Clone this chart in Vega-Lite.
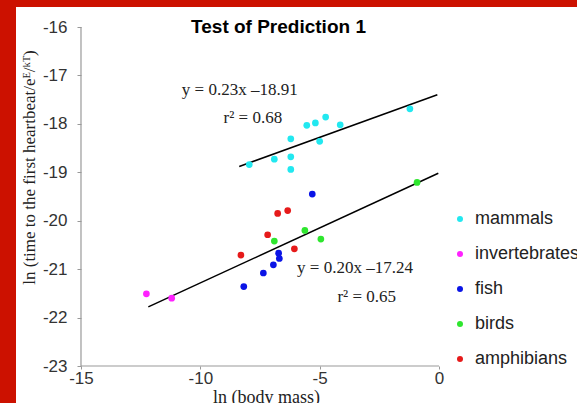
{
  "$schema": "https://vega.github.io/schema/vega-lite/v6.json",
  "width": 561,
  "height": 396,
  "autosize": "none",
  "padding": {"left": 16, "top": 7, "right": 0, "bottom": 0},
  "background": "#cc1100",
  "config": {"view": {"fill": "white", "stroke": null}},
  "title": {
    "text": "Test of Prediction 1",
    "font": "Liberation Sans",
    "fontSize": 19,
    "fontWeight": "bold",
    "color": "black",
    "anchor": "middle",
    "frame": "group",
    "baseline": "middle",
    "offset": -20,
    "dx": -18,
    "dy": 19
  },
  "datasets": {
    "axes": [
      {"x": -15, "y": -23, "x2": 0, "y2": -23},
      {"x": -15, "y": -23, "x2": -15, "y2": -16}
    ],
    "fits": [
      {"x": -8.37, "y": -18.88, "x2": -0.07, "y2": -17.40},
      {"x": -12.18, "y": -21.78, "x2": -0.03, "y2": -19.02}
    ],
    "points": [
      {"x": -7.95, "y": -18.84, "group": "mammals"},
      {"x": -6.90, "y": -18.73, "group": "mammals"},
      {"x": -6.21, "y": -18.68, "group": "mammals"},
      {"x": -6.21, "y": -18.94, "group": "mammals"},
      {"x": -6.21, "y": -18.31, "group": "mammals"},
      {"x": -5.54, "y": -18.03, "group": "mammals"},
      {"x": -5.18, "y": -17.98, "group": "mammals"},
      {"x": -4.75, "y": -17.86, "group": "mammals"},
      {"x": -5.00, "y": -18.36, "group": "mammals"},
      {"x": -4.14, "y": -18.02, "group": "mammals"},
      {"x": -1.22, "y": -17.69, "group": "mammals"},
      {"x": -12.26, "y": -21.51, "group": "invertebrates"},
      {"x": -11.20, "y": -21.60, "group": "invertebrates"},
      {"x": -5.31, "y": -19.45, "group": "fish"},
      {"x": -6.72, "y": -20.67, "group": "fish"},
      {"x": -6.69, "y": -20.78, "group": "fish"},
      {"x": -6.94, "y": -20.91, "group": "fish"},
      {"x": -7.36, "y": -21.08, "group": "fish"},
      {"x": -8.18, "y": -21.36, "group": "fish"},
      {"x": -0.92, "y": -19.21, "group": "birds"},
      {"x": -5.62, "y": -20.20, "group": "birds"},
      {"x": -6.90, "y": -20.42, "group": "birds"},
      {"x": -4.95, "y": -20.38, "group": "birds"},
      {"x": -6.76, "y": -19.85, "group": "amphibians"},
      {"x": -6.34, "y": -19.79, "group": "amphibians"},
      {"x": -7.18, "y": -20.29, "group": "amphibians"},
      {"x": -6.06, "y": -20.58, "group": "amphibians"},
      {"x": -8.30, "y": -20.71, "group": "amphibians"}
    ],
    "notes": [
      {"x": -8.35, "y": -17.30, "label": "y = 0.23x –18.91"},
      {"x": -7.80, "y": -17.88, "label": "r² = 0.68"},
      {"x": -3.52, "y": -20.97, "label": "y = 0.20x –17.24"},
      {"x": -3.03, "y": -21.57, "label": "r² = 0.65"}
    ]
  },
  "encoding": {
    "x": {
      "field": "x",
      "type": "quantitative",
      "scale": {"domain": [-17.723, 5.781], "nice": false, "zero": false},
      "axis": {
        "values": [-15, -10, -5, 0],
        "labelExpr": "toString(datum.value)",
        "domain": false,
        "grid": false,
        "offset": -37,
        "tickSize": 3,
        "tickColor": "#999999",
        "labelPadding": 1,
        "labelFlush": false,
        "labelFont": "Liberation Sans",
        "labelFontSize": 17,
        "labelColor": "#333333",
        "title": "ln (body mass)",
        "titleFont": "Liberation Serif",
        "titleFontSize": 18,
        "titleFontWeight": "normal",
        "titleColor": "#222222",
        "titleX": 250,
        "titleY": 22,
        "titleBaseline": "top"
      }
    },
    "y": {
      "field": "y",
      "type": "quantitative",
      "scale": {"domain": [-23.764, -15.587], "nice": false, "zero": false},
      "axis": {
        "values": [-16, -17, -18, -19, -20, -21, -22, -23],
        "labelExpr": "toString(datum.value)",
        "domain": false,
        "grid": false,
        "offset": -65,
        "tickSize": 4,
        "tickColor": "#999999",
        "labelPadding": 10,
        "labelFont": "Liberation Sans",
        "labelFontSize": 17,
        "labelColor": "#333333",
        "title": "ln (time to the first heartbeat/eᴱ/ᵏᵀ)",
        "titleFont": "Liberation Serif",
        "titleFontSize": 17,
        "titleFontWeight": "normal",
        "titleColor": "#222222",
        "titleX": -43,
        "titleY": 160,
        "titleBaseline": "bottom"
      }
    }
  },
  "layer": [
    {
      "data": {"name": "axes"},
      "mark": {"type": "rule", "color": "#999999", "strokeWidth": 1.2},
      "encoding": {"x2": {"field": "x2"}, "y2": {"field": "y2"}}
    },
    {
      "data": {"name": "fits"},
      "mark": {"type": "rule", "color": "black", "strokeWidth": 1.5},
      "encoding": {"x2": {"field": "x2"}, "y2": {"field": "y2"}}
    },
    {
      "data": {"name": "points"},
      "mark": {"type": "point", "filled": true, "shape": "circle", "size": 45, "opacity": 1},
      "encoding": {
        "color": {
          "field": "group",
          "type": "nominal",
          "scale": {
            "domain": ["mammals", "invertebrates", "fish", "birds", "amphibians"],
            "range": ["#22e8f0", "#ff22ff", "#0a14e6", "#2ee62e", "#e61a1a"]
          },
          "legend": {
            "title": null,
            "orient": "none",
            "legendX": 435,
            "legendY": 203,
            "padding": 0,
            "symbolSize": 36,
            "symbolType": "circle",
            "labelFont": "Liberation Sans",
            "labelFontSize": 18,
            "labelColor": "#222222",
            "labelOffset": 6,
            "rowPadding": 17
          }
        }
      }
    },
    {
      "data": {"name": "notes"},
      "mark": {"type": "text", "font": "Liberation Serif", "fontSize": 17, "color": "#222222", "align": "center", "baseline": "middle"},
      "encoding": {"text": {"field": "label"}}
    }
  ]
}
